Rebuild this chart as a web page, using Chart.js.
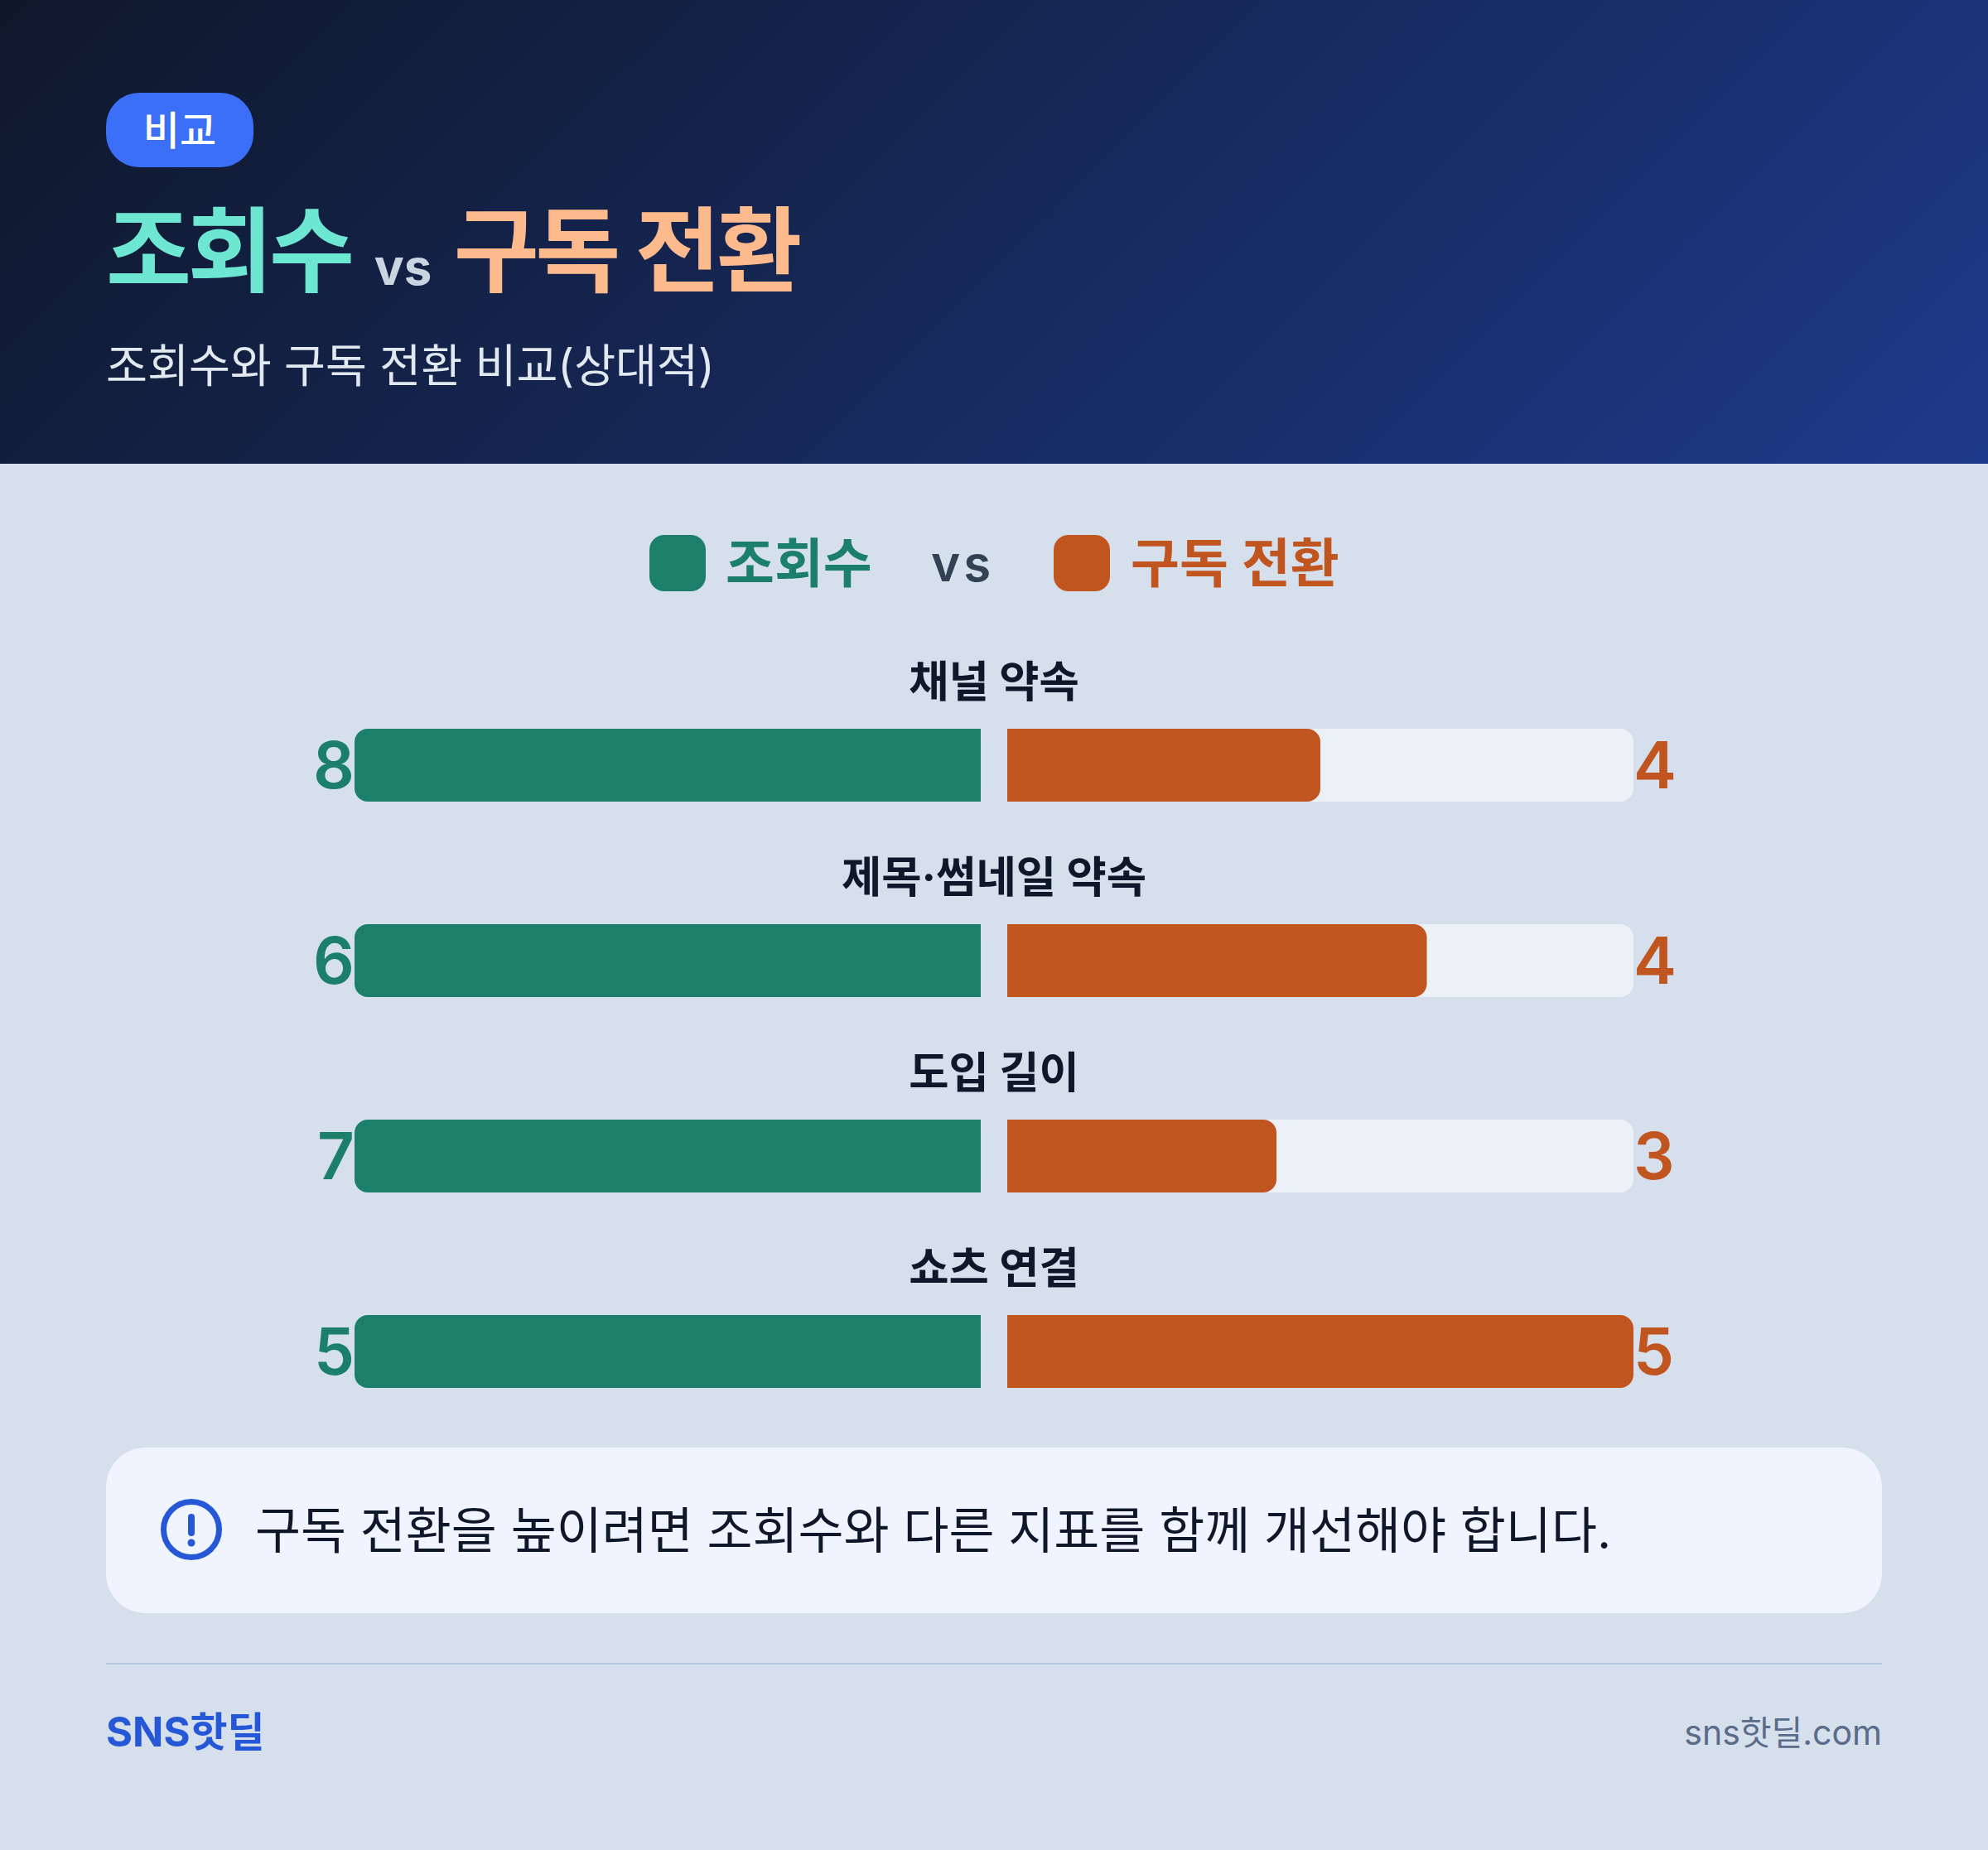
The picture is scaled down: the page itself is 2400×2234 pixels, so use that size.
<!DOCTYPE html>
<html lang="ko">
<head>
<meta charset="utf-8">
<title>조회수 vs 구독 전환</title>
<script src="https://cdn.jsdelivr.net/npm/chart.js@4"></script>
<style>
*{margin:0;padding:0;box-sizing:border-box}
html,body{width:2400px;height:2234px;overflow:hidden}
body{position:relative;background:#d6e0ec;font-family:Inter,"Noto Sans CJK KR","Noto Sans",sans-serif}
.abs{position:absolute;white-space:nowrap}
#head{left:0;top:0;width:2400px;height:560px;background:linear-gradient(135deg,#0f172a 0%,#1e3a8a 100%)}
#badge{left:128px;top:112px;width:178px;height:90px;border-radius:40px;background:#3b6ff8;color:#fff;font-size:48px;font-weight:500;line-height:92px;text-align:center}
#title{left:128px;top:228px;font-size:112px;font-weight:700;line-height:150px;letter-spacing:-4.5px}
#title .a{color:#6ee7d2}
#title .b{color:#fdba8c}
#title .v{color:#cbd5e1;font-size:60px;letter-spacing:0;margin:0 12px 0 14px}
#sub{left:128px;top:403px;font-size:54.3px;line-height:76px;color:#e2e8f0}
#chart{position:absolute;left:0;top:560px}
.sw{width:68px;height:68px;top:646px;border-radius:18px}
.lg{top:636px;font-size:64px;font-weight:600;line-height:88px}
#note{left:128px;top:1748px;width:2144px;height:200px;border-radius:48px;background:#f0f4ff}
#note svg{position:absolute;left:66px;top:62px}
#note span{position:absolute;left:180px;top:50px;font-size:59.8px;line-height:100px;color:#0f172a}
#rule{left:128px;top:2008px;width:2144px;height:2px;background:#b8c9e3}
#brand{left:128px;top:2056px;font-size:49px;font-weight:700;line-height:72px;color:#2557d6}
#site{right:128px;top:2060px;font-size:41px;line-height:64px;color:#5b6b8a}
</style>
</head>
<body>
<div class="abs" id="head"></div>
<div class="abs" id="badge">비교</div>
<div class="abs" id="title"><span class="a">조회수</span><span class="v"> vs </span><span class="b">구독 전환</span></div>
<div class="abs" id="sub">조회수와 구독 전환 비교(상대적)</div>

<canvas id="chart" width="2400" height="1190"></canvas>

<div class="abs sw" style="left:784px;background:#1b7f6a"></div>
<div class="abs lg" style="left:876px;color:#1b7f6a">조회수</div>
<div class="abs lg" style="left:1124px;color:#334155;font-size:60px;letter-spacing:4px">vs</div>
<div class="abs sw" style="left:1272px;background:#c1551f"></div>
<div class="abs lg" style="left:1365px;color:#c1551f">구독 전환</div>

<div class="abs" id="note">
 <svg width="74" height="74" viewBox="0 0 74 74"><circle cx="37" cy="37" r="33.5" fill="none" stroke="#2557d6" stroke-width="7"/><line x1="37" y1="22" x2="37" y2="41" stroke="#2557d6" stroke-width="8" stroke-linecap="round"/><circle cx="37" cy="53" r="4.5" fill="#2557d6"/></svg>
 <span>구독 전환을 높이려면 조회수와 다른 지표를 함께 개선해야 합니다.</span>
</div>
<div class="abs" id="rule"></div>
<div class="abs" id="brand">SNS핫딜</div>
<div class="abs" id="site">sns핫딜.com</div>

<script>
// ===== 조회수 vs 구독 전환 =====
var categories=['채널 약속','제목·썸네일 약속','도입 길이','쇼츠 연결'];
var viewValues=[8,6,7,5];
var subValues=[4,4,3,5];

var GREEN='#1b7f6a', ORANGE='#c1551f', TRACK='#ecf1f8', INK='#0f172a';
var FONT='Inter,"Noto Sans CJK KR",sans-serif';
var GAP=0.0207; // half of the space between the two panels, in axis units

// left panel is always full, right panel is the whole-percent share of the left value
var leftBars=viewValues.map(function(v){return [-1,-GAP];});
var trackBars=viewValues.map(function(v){return [GAP,1];});
var rightBars=subValues.map(function(v,i){return [GAP,GAP+(1-GAP)*Math.round(v/viewValues[i]*100)/100];});

// category names above the bars, values on both ends
var rowText={
 id:'rowText',
 afterDatasetsDraw:function(chart){
  var ctx=chart.ctx, x=chart.scales.x, y=chart.scales.y;
  ctx.save();
  ctx.textBaseline='middle';
  categories.forEach(function(name,i){
   var cy=y.getPixelForValue(i);
   ctx.textAlign='center'; ctx.fillStyle=INK; ctx.font='700 52.5px '+FONT;
   ctx.fillText(name,x.getPixelForValue(0),cy-98);
   ctx.font='600 78px '+FONT;
   ctx.textAlign='right'; ctx.fillStyle=GREEN;
   ctx.fillText(viewValues[i],x.getPixelForValue(-1),cy+5);
   ctx.textAlign='left'; ctx.fillStyle=ORANGE;
   ctx.fillText(subValues[i],x.getPixelForValue(1),cy+5);
  });
  ctx.restore();
 }
};

new Chart(document.getElementById('chart'),{
 type:'bar',
 data:{labels:categories,datasets:[
  {label:'조회수',data:leftBars,backgroundColor:GREEN,borderRadius:{topLeft:16,bottomLeft:16,topRight:0,bottomRight:0},order:1},
  {label:'구독 전환',data:rightBars,backgroundColor:ORANGE,borderRadius:{topLeft:0,bottomLeft:0,topRight:16,bottomRight:16},order:1},
  {label:'track',data:trackBars,backgroundColor:TRACK,borderRadius:{topLeft:0,bottomLeft:0,topRight:16,bottomRight:16},order:2}
 ]},
 options:{
  indexAxis:'y',responsive:false,animation:false,
  layout:{padding:{left:428,right:428,top:246,bottom:0}},
  datasets:{bar:{grouped:false,barThickness:88,borderSkipped:false,inflateAmount:0}},
  plugins:{legend:{display:false},tooltip:{enabled:false}},
  scales:{
   x:{display:false,min:-1,max:1},
   y:{display:false}
  }
 },
 plugins:[rowText]
});
</script>
</body>
</html>
